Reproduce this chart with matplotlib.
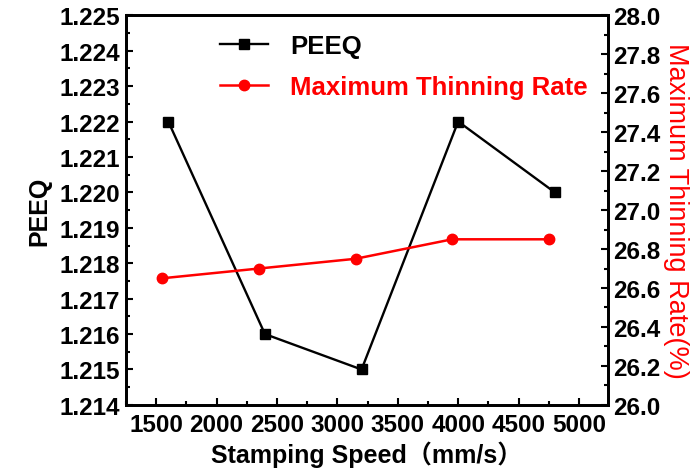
import numpy as np
import matplotlib.pyplot as plt
from matplotlib.ticker import MultipleLocator

# data
speed_peeq = [1600, 2400, 3200, 4000, 4800]
peeq = [1.222, 1.216, 1.215, 1.222, 1.220]

speed_thin = [1550, 2350, 3150, 3950, 4750]
thinning = [26.65, 26.70, 26.75, 26.85, 26.85]

FONT = ['Liberation Sans', 'Noto Sans CJK SC']
plt.rcParams['font.family'] = FONT
plt.rcParams['font.weight'] = 'bold'

fig = plt.figure(figsize=(6.94, 4.77), dpi=100)
ax = fig.add_axes([0.1816, 0.149, 0.6944, 0.817])
ax2 = ax.twinx()

l1, = ax.plot(speed_peeq, peeq, color='black', lw=1.7, marker='s', ms=6.5, label='PEEQ')
l2, = ax2.plot(speed_thin, thinning, color='red', lw=1.8, marker='o', ms=7.5, label='Maximum Thinning Rate')

ax.set_xlim(1250, 5240)
ax.set_ylim(1.214, 1.225)
ax2.set_ylim(26.0, 28.0)

ax.xaxis.set_major_locator(MultipleLocator(500))
ax.xaxis.set_minor_locator(MultipleLocator(250))
ax.yaxis.set_major_locator(MultipleLocator(0.001))
ax.yaxis.set_minor_locator(MultipleLocator(0.0005))
ax2.yaxis.set_major_locator(MultipleLocator(0.2))
ax2.yaxis.set_minor_locator(MultipleLocator(0.1))

ax.tick_params(axis='both', which='both', direction='in', labelsize=17.5, width=1.5)
ax.tick_params(which='major', length=5)
ax.tick_params(which='minor', length=3)
ax.tick_params(axis='x', pad=6)
ax.tick_params(axis='y', pad=4)
ax2.tick_params(axis='y', which='both', direction='in', labelsize=17.5, width=1.5, pad=4)
ax2.tick_params(which='major', length=5)
ax2.tick_params(which='minor', length=3)

for a in (ax, ax2):
    for s in a.spines.values():
        s.set_linewidth(2)

ax.yaxis.set_major_formatter(plt.FormatStrFormatter('%.3f'))
ax2.yaxis.set_major_formatter(plt.FormatStrFormatter('%.1f'))

ax.set_xlabel('Stamping Speed（mm/s）', fontsize=18, fontweight='bold', labelpad=3)
ax.set_ylabel('PEEQ', fontsize=18, fontweight='bold', labelpad=6)
ax2.set_ylabel('Maximum Thinning Rate(%)', fontsize=19.5, fontweight='normal',
               color='red', rotation=270, labelpad=20)

leg = ax.legend(handles=[l1, l2], loc='upper left', bbox_to_anchor=(0.174, 0.977),
                borderaxespad=0, frameon=False, fontsize=18.5, handlelength=1.87,
                handletextpad=0.85, labelspacing=0.66)
leg.get_texts()[1].set_color('red')

fig.savefig('out.png', dpi=100)
